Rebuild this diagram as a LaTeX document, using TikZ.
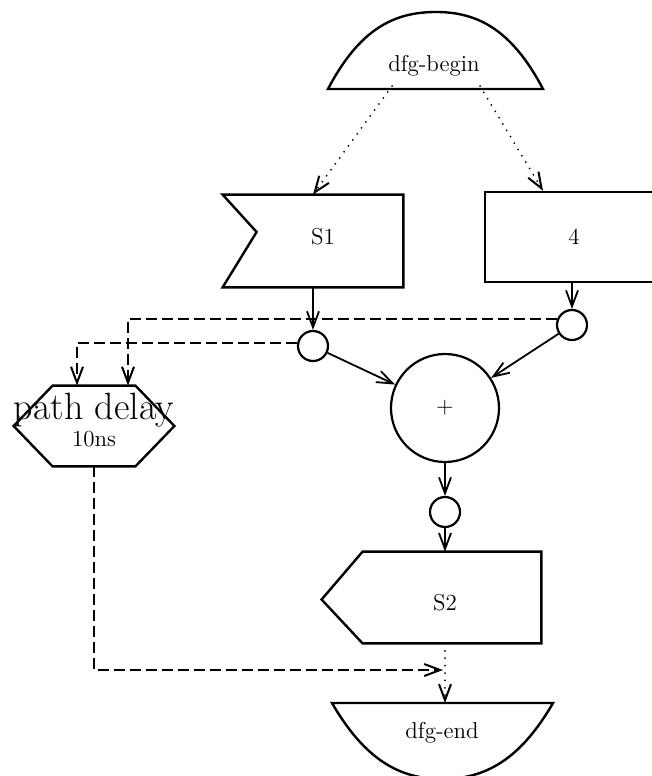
\documentclass[tikz,border=0pt]{standalone}
\usepackage{tikz}
\usetikzlibrary{arrows.meta,positioning,calc}

\tikzset{
  shp/.style={line width=1.2pt},
  blank/.style={draw=none, inner sep=0pt},
  joint/.style={circle, draw, line width=1.1pt, minimum size=15pt, inner sep=0pt},
  flow/.style={line width=0.9pt, -{Straight Barb[length=8pt,width=6pt]}},
  ctrl/.style={flow, line width=1pt, dash pattern=on 5.5pt off 2.5pt},
  seq/.style={flow, line width=1pt, line cap=round, dash pattern=on 0pt off 3.7pt},
}

\begin{document}
\begin{tikzpicture}[x=0.5pt, y=-0.5pt, every node/.style={font=\fontsize{11.5}{13}\selectfont}]
    \useasboundingbox (0,0) rectangle (652,776);
    \clip (0,0) rectangle (652,776);

    % begin / end domes
    \node (begin) at (434,66) {dfg-begin};
    \draw[shp] (328,89) .. controls (360,28) and (395,12) .. (436,12)
                        .. controls (478,12) and (512,30) .. (543,89) -- cycle;
    \coordinate (bl) at (392,86);
    \coordinate (br) at (480,86);
    \node (end) at (442,733) {dfg-end};
    \draw[shp] (332,703) -- (553,703) .. controls (520,760) and (485,779) .. (442,779)
                        .. controls (400,779) and (365,760) .. (332,703) -- cycle;
    \coordinate (endtop) at (445,703);

    % input port S1 and constant 4
    \node[blank, minimum width=90pt, minimum height=46pt] (s1) at (313,241) {};
    \draw[shp] (s1.north west) -- (s1.north east) -- (s1.south east) -- (s1.south west)
               -- ($(s1.west)+(34,-9)$) -- cycle;
    \node (s1txt) at (323,237) {S1};
    \node[draw, shp, minimum width=89pt, minimum height=45pt, inner sep=0pt] (four) at (574,237) {4};

    % adder with its joints
    \node[joint] (j1) at (313,346) {};
    \node[joint] (j2) at (572,325) {};
    \node[circle, draw, line width=1.1pt, minimum size=54pt, inner sep=0pt] (add) at (445,408) {+};
    \node[joint] (j3) at (445,512) {};

    % output port S2
    \node[blank, minimum width=89pt, minimum height=45.5pt] (s2) at (452,597.5) {};
    \draw[shp] (s2.north west) -- (s2.north east) -- (s2.south east) -- (s2.south west)
               -- ($(s2.west)+(-41,2)$) -- cycle;
    \node (s2txt) at (445,603) {S2};

    % delay constraint
    \node[blank, minimum width=41pt, minimum height=40pt] (delay) at (94,426) {};
    \draw[shp] (delay.north west) -- (delay.north east) -- ($(delay.east)+(39,0)$)
               -- (delay.south east) -- (delay.south west) -- ($(delay.west)+(-39,0)$) -- cycle;
    \node[font=\fontsize{19}{22}\selectfont] (dname) at (94,410) {path delay};
    \node (dtime) at (94,439) {10ns};

    % data flow
    \draw[seq] (bl) -- (s1.north);
    \draw[seq] (br) -- ($(four.north)+(-31,0)$);
    \draw[flow] (s1.south) -- (j1);
    \draw[flow] (four.south -| j2) -- (j2);
    \draw[flow] (j1) -- (add);
    \draw[flow] (j2) -- (add);
    \draw[flow] (add) -- (j3);
    \draw[flow] (j3) -- (j3 |- s2.north);
    \draw[seq] (s2.south -| j3) -- (endtop);

    % timing paths
    \draw[ctrl] (j2.158) -| ($(delay.north)+(34,0)$);
    \draw[ctrl] (j1.170) -| ($(delay.north)+(-17,0)$);
    \coordinate (meet) at (443,670);
    \draw[ctrl] (delay.south) |- (meet);
\end{tikzpicture}
\end{document}
